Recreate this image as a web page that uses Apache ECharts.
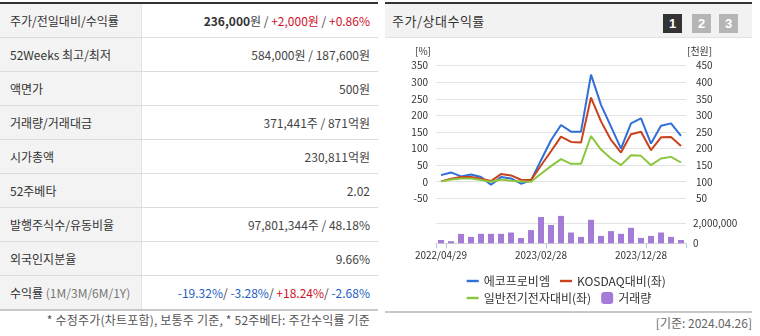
<!DOCTYPE html>
<html><head><meta charset="utf-8">
<script src="https://cdn.jsdelivr.net/npm/echarts@6/dist/echarts.min.js"></script>
<style>
html,body{margin:0;padding:0;background:#fff;}
body{width:760px;height:336px;position:relative;overflow:hidden;font-family:"Noto Sans CJK KR","Noto Sans",sans-serif;color:#333;font-size:12px;}
#tbl{position:absolute;left:0;top:2px;width:378px;border-top:2px solid #333;}
.row{height:33px;border-bottom:1px solid #dcdcdc;display:flex;}
.row.last{border-bottom:2px solid #c8c8c8;}
.k{width:131px;padding-left:10px;background:#f3f3f3;line-height:33px;border-right:1px solid #e4e4e4;color:#333;white-space:nowrap;}
.v{flex:1;text-align:right;padding-right:8px;line-height:33px;color:#444;white-space:nowrap;}
.red{color:#d0112b;} .blue{color:#1b5fc4;} .g{color:#777;}
#note{position:absolute;right:390px;top:312px;line-height:16px;color:#555;white-space:nowrap;letter-spacing:0.2px;}
#panel{position:absolute;left:385px;top:2px;width:367px;height:307px;border-top:2px solid #333;border-bottom:2px solid #c8c8c8;}
#hdr{height:33px;background:#f2f2f2;border-bottom:1px solid #e2e2e2;position:relative;}
#hdr .t{position:absolute;left:7px;top:0;line-height:33px;font-size:13px;color:#333;letter-spacing:0.5px;}
.btn{position:absolute;top:10px;width:19px;height:19px;line-height:19px;text-align:center;color:#fff;font-weight:bold;font-size:13px;font-family:"Liberation Sans",sans-serif;}
#basis{position:absolute;right:8px;top:315px;line-height:16px;color:#666;white-space:nowrap;}
#chart{position:absolute;left:385px;top:38px;width:375px;height:270px;}
</style></head>
<body>
<div id="tbl">
 <div class="row"><div class="k">주가/전일대비/수익률</div><div class="v"><b style="color:#333">236,000</b>원 / <span class="red">+2,000원</span> / <span class="red">+0.86%</span></div></div>
 <div class="row"><div class="k">52Weeks 최고/최저</div><div class="v">584,000원 / 187,600원</div></div>
 <div class="row"><div class="k">액면가</div><div class="v">500원</div></div>
 <div class="row"><div class="k">거래량/거래대금</div><div class="v">371,441주 / 871억원</div></div>
 <div class="row"><div class="k">시가총액</div><div class="v">230,811억원</div></div>
 <div class="row"><div class="k">52주베타</div><div class="v">2.02</div></div>
 <div class="row"><div class="k">발행주식수/유동비율</div><div class="v">97,801,344주 / 48.18%</div></div>
 <div class="row"><div class="k">외국인지분율</div><div class="v">9.66%</div></div>
 <div class="row last"><div class="k">수익률 <span class="g">(1M/3M/6M/1Y)</span></div><div class="v"><span class="blue">-19.32%</span>/ <span class="blue">-3.28%</span>/ <span class="red">+18.24%</span>/ <span class="blue">-2.68%</span></div></div>
</div>
<div id="note">* 수정주가(차트포함), 보통주 기준, * 52주베타: 주간수익률 기준</div>
<div id="panel">
 <div id="hdr"><div class="t">주가/상대수익률</div>
  <div class="btn" style="left:278px;background:#333;">1</div>
  <div class="btn" style="left:307px;background:#b5b5b5;">2</div>
  <div class="btn" style="left:334px;background:#b5b5b5;">3</div>
 </div>
</div>
<div id="basis">[기준: 2024.04.26]</div>
<div id="chart"></div>
<script>
const dates = ['2022/04/29','2022/05/31','2022/06/30','2022/07/29','2022/08/31','2022/09/30','2022/10/31','2022/11/30','2022/12/29','2023/01/31','2023/02/28','2023/03/31','2023/04/28','2023/05/31','2023/06/30','2023/07/31','2023/08/31','2023/09/27','2023/10/31','2023/11/30','2023/12/28','2024/01/31','2024/02/29','2024/03/29','2024/04/26'];
const ecoproBM = [20, 28, 16, 22, 14, -9, 14, 10, -6, 4, 65, 125, 171, 151, 151, 323, 232, 166, 100, 176, 191, 115, 169, 176, 138];
const kosdaqRel = [1, 9, 14, 14, 9, 2, 23, 19, 6, 5, 49, 92, 136, 120, 118, 254, 182, 126, 88, 143, 151, 95, 134, 135, 108];
const sectorRel = [1, 7, 10, 10, 5, 0, 7, 3, 1, 0, 24, 47, 68, 54, 54, 138, 97, 70, 50, 80, 78, 50, 70, 75, 58];
const volume = [330000, 210000, 940000, 640000, 950000, 950000, 950000, 1080000, 530000, 1320000, 2630000, 1830000, 2740000, 1080000, 640000, 2350000, 740000, 1220000, 950000, 1550000, 540000, 740000, 1080000, 640000, 330000];
const pctAxis = {min: -50, max: 350, interval: 50};
const priceAxis = {min: 50, max: 450, interval: 50};
const volAxis = {min: 0, max: 2000000, interval: 2000000};

const FONT = '"Noto Sans CJK KR", "Noto Sans", sans-serif';
const LINE_ICON = 'path://M0,0L12,0L12,2.4L0,2.4Z';
const chart = echarts.init(document.getElementById('chart'), null, {renderer: 'canvas'});
const lbl = {fontSize: 10, color: '#333', fontFamily: FONT};
chart.setOption({
  animation: false,
  textStyle: {fontFamily: FONT},
  grid: [
    {left: 51, right: 74, top: 27.7, height: 132.6},
    {left: 51, right: 74, top: 185.3, height: 20}
  ],
  xAxis: [
    {type: 'category', gridIndex: 0, data: dates, boundaryGap: true, offset: 2,
     axisLine: {show: true, lineStyle: {color: '#e2e2e2'}}, axisTick: {show: false}, axisLabel: {show: false}},
    {type: 'category', gridIndex: 1, data: dates, boundaryGap: true,
     axisLine: {show: true, lineStyle: {color: '#d8d8d8'}},
     axisTick: {show: true, length: 5, interval: (i) => i === 0 || i === 1 || i === 11 || i === 21, lineStyle: {color: '#b9c7da'}},
     axisLabel: Object.assign({interval: (i) => i % 10 === 0, margin: 7}, lbl)}
  ],
  yAxis: [
    Object.assign({type: 'value', gridIndex: 0, position: 'left',
     axisLine: {show: false}, axisTick: {show: false}, axisLabel: Object.assign({margin: 8}, lbl),
     splitLine: {lineStyle: {color: '#e3e3e3'}}}, pctAxis),
    Object.assign({type: 'value', gridIndex: 0, position: 'right',
     axisLine: {show: false}, axisTick: {show: false}, axisLabel: Object.assign({margin: 10}, lbl),
     splitLine: {show: false}}, priceAxis),
    Object.assign({type: 'value', gridIndex: 1, position: 'right',
     axisLine: {show: false}, axisTick: {show: false}, axisLabel: Object.assign({margin: 7}, lbl),
     splitLine: {lineStyle: {color: '#e3e3e3'}}}, volAxis)
  ],
  legend: [
    {data: [{name: '에코프로비엠', icon: LINE_ICON}, {name: 'KOSDAQ대비(좌)', icon: LINE_ICON}],
     left: 76.7, top: 232, itemWidth: 12, itemHeight: 12, itemGap: 10, symbolKeepAspect: true,
     textStyle: {fontSize: 12, color: '#333', fontFamily: FONT}},
    {data: [{name: '일반전기전자대비(좌)', icon: LINE_ICON}, {name: '거래량', icon: 'roundRect'}],
     left: 76.7, top: 249, itemWidth: 12, itemHeight: 12, itemGap: 10, symbolKeepAspect: true,
     textStyle: {fontSize: 12, color: '#333', fontFamily: FONT}}
  ],
  graphic: [
    {type: 'text', left: 30, top: 8, style: {text: '[%]', fontSize: 10, fill: '#333', fontFamily: FONT}},
    {type: 'text', left: 302, top: 8, style: {text: '[천원]', fontSize: 10, fill: '#333', fontFamily: FONT}}
  ],
  series: [
    {name: '에코프로비엠', type: 'line', xAxisIndex: 0, yAxisIndex: 0, data: ecoproBM, symbol: 'none',
     color: '#2f6fd6', lineStyle: {width: 2, color: '#2f6fd6'}},
    {name: 'KOSDAQ대비(좌)', type: 'line', xAxisIndex: 0, yAxisIndex: 0, data: kosdaqRel, symbol: 'none',
     color: '#c9421c', lineStyle: {width: 2, color: '#c9421c'}},
    {name: '일반전기전자대비(좌)', type: 'line', xAxisIndex: 0, yAxisIndex: 0, data: sectorRel, symbol: 'none',
     color: '#8cc63e', lineStyle: {width: 2, color: '#8cc63e'}},
    {name: '거래량', type: 'bar', xAxisIndex: 1, yAxisIndex: 2, data: volume, barWidth: 6, clip: false,
     itemStyle: {color: '#a47cd8'}}
  ]
});
</script>
</body></html>
